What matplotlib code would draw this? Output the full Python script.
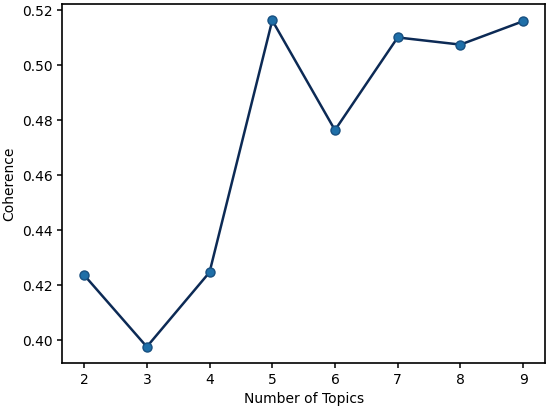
import matplotlib.pyplot as plt

num_topics = [2, 3, 4, 5, 6, 7, 8, 9]
coherence = [0.4237, 0.3976, 0.4247, 0.5163, 0.4764, 0.5101, 0.5075, 0.5160]

fig, ax = plt.subplots(figsize=(5.5, 4.08), dpi=100)
fig.subplots_adjust(left=0.113, right=0.991, bottom=0.110, top=0.990)

ax.plot(num_topics, coherence, color='#0c2a55', linewidth=1.8,
        marker='o', markersize=6.5, markerfacecolor='#1f6fa8', markeredgecolor='#174f80')

ax.set_xlabel('Number of Topics', fontsize=10)
ax.set_ylabel('Coherence', fontsize=10)
ax.tick_params(labelsize=10, width=1.1)
for s in ax.spines.values():
    s.set_linewidth(1.2)

plt.savefig('out.png')
